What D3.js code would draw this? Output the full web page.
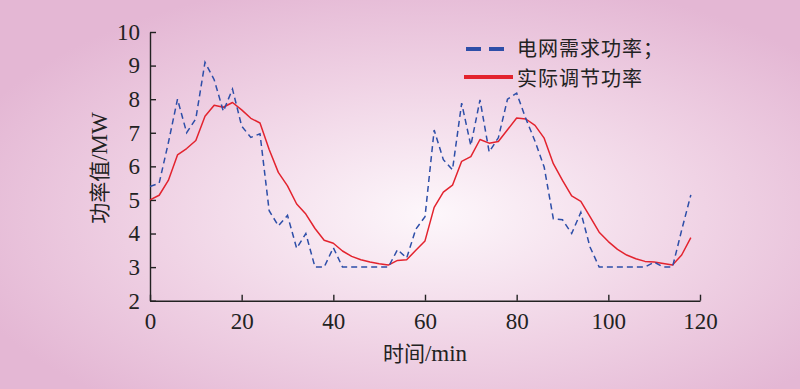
<!DOCTYPE html>
<html>
<head>
<meta charset="utf-8">
<script src="https://cdn.jsdelivr.net/npm/d3@7"></script>
<style>
  body { margin: 0; }
  svg { display: block; }
  .axis path, .axis line { stroke: #222; stroke-width: 1.4; }
  .axis text { font-family: "Liberation Serif", serif; font-size: 23px; fill: #222; }
</style>
</head>
<body>
<script>
// time in minutes, one point every 2 min
let times = d3.range(0, 120, 2);

// 电网需求功率 (dashed blue)
let demand = [5.4, 5.5, 6.7, 8.0, 7.0, 7.42, 9.1, 8.58, 7.64, 8.3,
  7.2, 6.86, 6.97, 4.68, 4.23, 4.54, 3.56, 4.0, 3.0, 3.0,
  3.58, 3.0, 3.0, 3.0, 3.0, 3.0, 3.0, 3.52, 3.27, 4.13,
  4.5, 7.08, 6.2, 5.9, 7.88, 6.62, 7.98, 6.43, 6.85, 8.0,
  8.18, 7.42, 6.75, 5.98, 4.44, 4.41, 4.0, 4.63, 3.6, 3.0,
  3.0, 3.0, 3.0, 3.0, 3.0, 3.15, 3.0, 3.0, 4.1, 5.15];

// 实际调节功率 (solid red)
let actual = [5.0, 5.14, 5.58, 6.34, 6.53, 6.77, 7.49, 7.82, 7.76, 7.9,
  7.68, 7.43, 7.29, 6.5, 5.82, 5.42, 4.88, 4.58, 4.15, 3.8,
  3.71, 3.48, 3.32, 3.22, 3.15, 3.1, 3.06, 3.2, 3.22, 3.5,
  3.78, 4.78, 5.23, 5.44, 6.15, 6.29, 6.8, 6.69, 6.74, 7.09,
  7.44, 7.41, 7.22, 6.84, 6.08, 5.58, 5.12, 4.96, 4.5, 4.04,
  3.76, 3.53, 3.36, 3.25, 3.17, 3.15, 3.11, 3.06, 3.36, 3.88];

let xTicks = [0, 20, 40, 60, 80, 100, 120],
  yTicks = [2, 3, 4, 5, 6, 7, 8, 9, 10];

let seriesNames = ["电网需求功率；", "实际调节功率"];

let width = 800,
  height = 389;

let svg = d3
  .select("body")
  .append("svg")
  .attr("width", width)
  .attr("height", height);

// pink radial background
let grad = svg
  .append("defs")
  .append("radialGradient")
  .attr("id", "bg")
  .attr("cx", "54%")
  .attr("cy", "55%")
  .attr("r", "62%");
grad.append("stop").attr("offset", "0%").attr("stop-color", "#fdf7fb");
grad.append("stop").attr("offset", "55%").attr("stop-color", "#f0d3e5");
grad.append("stop").attr("offset", "100%").attr("stop-color", "#e4b7d4");

svg
  .append("rect")
  .attr("width", width)
  .attr("height", height)
  .attr("fill", "url(#bg)");

let x = d3.scaleLinear().domain([0, 120]).range([150, 700]);
let y = d3.scaleLinear().domain([2, 10]).range([300.7, 32]);

// axes, ticks point inward
svg
  .append("g")
  .attr("class", "axis")
  .attr("transform", "translate(0," + y(2) + ")")
  .call(
    d3.axisBottom(x).tickValues(xTicks).tickSize(-6).tickSizeOuter(0).tickPadding(12)
  );

svg
  .append("g")
  .attr("class", "axis")
  .attr("transform", "translate(" + x(0) + ",0)")
  .call(
    d3.axisLeft(y).tickValues(yTicks).tickSize(-6).tickSizeOuter(0).tickPadding(10)
  );

// lines
let line = function (vals) {
  return d3
    .line()
    .x(function (d, i) {
      return x(times[i]);
    })
    .y(function (d) {
      return y(d);
    })(vals);
};

svg
  .append("path")
  .attr("d", line(actual))
  .attr("fill", "none")
  .attr("stroke", "#e3232e")
  .attr("stroke-width", 1.5)
  .attr("stroke-linejoin", "round");

svg
  .append("path")
  .attr("d", line(demand))
  .attr("fill", "none")
  .attr("stroke", "#2d4ea8")
  .attr("stroke-width", 1.5)
  .attr("stroke-dasharray", "6,4");

// axis titles
svg
  .append("text")
  .attr("x", 425)
  .attr("y", 361)
  .attr("text-anchor", "middle")
  .style("font-family", "'Noto Sans CJK SC', 'Liberation Serif', serif")
  .style("font-size", "21px")
  .style("fill", "#222")
  .html('时间<tspan style="font-family: Liberation Serif; font-size: 23px">/min</tspan>');

svg
  .append("text")
  .attr("transform", "translate(107,168) rotate(-90)")
  .attr("text-anchor", "middle")
  .style("font-family", "'Noto Sans CJK SC', 'Liberation Serif', serif")
  .style("font-size", "21px")
  .style("fill", "#222")
  .html('功率值<tspan style="font-family: Liberation Serif; font-size: 23px">/MW</tspan>');

// legend
let legend = svg.append("g");

legend
  .append("line")
  .attr("x1", 466)
  .attr("x2", 508)
  .attr("y1", 49)
  .attr("y2", 49)
  .attr("stroke", "#2d4ea8")
  .attr("stroke-width", 4)
  .attr("stroke-dasharray", "15,8");

legend
  .append("line")
  .attr("x1", 464)
  .attr("x2", 513)
  .attr("y1", 77)
  .attr("y2", 77)
  .attr("stroke", "#e3232e")
  .attr("stroke-width", 4);

legend
  .selectAll("text")
  .data(seriesNames)
  .enter()
  .append("text")
  .attr("x", 517)
  .attr("y", function (d, i) {
    return 56 + i * 29.5;
  })
  .style("font-family", "'Noto Sans CJK SC', sans-serif")
  .style("font-size", "20px")
  .style("letter-spacing", "1px")
  .style("fill", "#222")
  .text(function (d) {
    return d;
  });
</script>
</body>
</html>
